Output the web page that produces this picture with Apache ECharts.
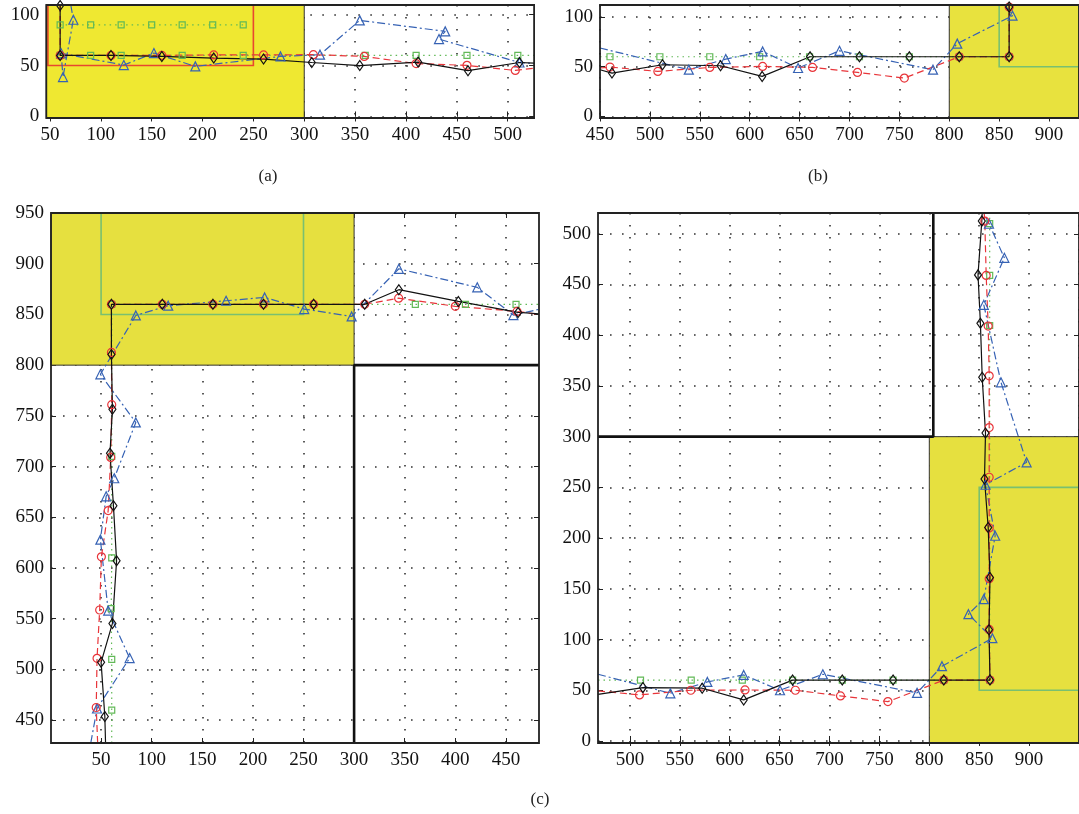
<!DOCTYPE html>
<html>
<head>
<meta charset="utf-8">
<title>Trajectory panels</title>
<script src="https://cdn.jsdelivr.net/npm/echarts@6.0.0/dist/echarts.min.js"></script>
<style>
  html, body { margin: 0; padding: 0; background: #fff; }
  #chart { width: 1079px; height: 814px; }
</style>
</head>
<body>
<div id="chart"></div>
<script>
// tick values / labels
const ticksAx = [50, 100, 150, 200, 250, 300, 350, 400, 450, 500];
const ticksAy = [0, 50, 100];
const ticksBx = [450, 500, 550, 600, 650, 700, 750, 800, 850, 900];
const ticksBy = [0, 50, 100];
const ticksCLx = [50, 100, 150, 200, 250, 300, 350, 400, 450];
const ticksCLy = [450, 500, 550, 600, 650, 700, 750, 800, 850, 900, 950];
const ticksCRx = [500, 550, 600, 650, 700, 750, 800, 850, 900, 950];
const labelsCRx = [500, 550, 600, 650, 700, 750, 800, 850, 900];
const ticksCRy = [0, 50, 100, 150, 200, 250, 300, 350, 400, 450, 500];

// panel (a)
const redA = [[60, 109.5], [60, 60], [110, 60], [160, 60], [211, 60.5], [260, 60.5], [309, 60.7], [359, 59], [410, 52], [460, 50.2], [507.5, 45.2], [526, 47.5]];
const greenA = [[60, 60], [90, 60], [120, 60], [180, 60], [240, 60], [360, 60], [410, 60], [460, 60], [510, 60], [526, 60]];
const greenA90 = [[60, 90], [90, 90], [120, 90], [150, 90], [180, 90], [210, 90], [240, 90]];
const blueA = [[70.5, 109.5], [73, 95], [62.8, 38.7], [61, 62], [122.6, 50.5], [152.2, 62.3], [192.9, 49.2], [276.7, 59], [315.5, 60.7], [354.6, 94.4], [438.6, 83.6], [432.5, 76], [511.6, 53], [526, 52]];
const blackA = [[60, 109], [60, 60], [110, 60], [160, 59], [211, 57.4], [260, 56.4], [307.4, 53], [354.6, 50], [412, 53.4], [461, 45], [511.6, 53], [526, 52.5]];

// panel (b)
const redB = [[450, 48.7], [460, 49.7], [508, 45.3], [560, 49.3], [613, 50.3], [663, 49.3], [708, 44.3], [755, 38.6], [810, 60], [860, 60], [860, 110], [860, 112]];
const greenB = [[450, 60], [460, 60], [510, 60], [560, 60], [610, 60], [660, 60], [710, 60], [760, 60], [810, 60], [860, 60], [860, 112]];
const blueB = [[450, 68.8], [539, 47], [576, 57.7], [613, 65.4], [648.5, 48.7], [690, 66], [783.7, 47], [808, 73.2], [863.4, 101.3], [856, 112]];
const blackB = [[450, 47], [462, 43.6], [512.6, 52], [570.8, 51], [612.5, 40.3], [660.5, 60], [710, 60], [760, 60], [810, 60], [860, 60], [860, 110], [860, 112]];

// panel (c), left
const redCL = [[46.6, 427.5], [45.2, 462.5], [46, 511], [48.6, 558.6], [50.3, 611], [57, 656.6], [59.5, 709], [60.5, 761], [60.2, 812.5], [60.2, 860], [110.5, 860], [160.5, 860], [210.5, 860], [260, 860], [310.5, 860], [344, 866], [400, 858], [461, 853], [482.7, 850]];
const greenCL = [[60.5, 427.5], [60.5, 460], [60.5, 510], [60, 560], [60.5, 610], [60.5, 710], [60.5, 860], [360.5, 860], [410, 860], [460, 860], [482.7, 860]];
const blueCL = [[39.8, 427.5], [46, 461.5], [78.2, 511.2], [57, 558], [49.3, 628], [55, 670.7], [63, 688.5], [84.3, 743.5], [49.3, 791], [84.3, 849], [116.3, 858.6], [173.5, 863.5], [211.6, 866.8], [250.7, 855.3], [297.6, 848], [344.2, 895], [421.7, 876.7], [457.4, 849.4], [482.7, 855]];
const blackCL = [[54.4, 427.5], [53.7, 453.6], [50, 507], [61.2, 545.4], [65.3, 607.2], [62.2, 661.5], [58.8, 713.2], [61.2, 756.6], [60.2, 810.5], [60.2, 860], [110.5, 860], [160.5, 860], [210.5, 860], [260, 860], [310.5, 860], [344.2, 874.4], [403, 862.8], [462, 852], [482.7, 850.7]];

// panel (c), right
const redCR = [[468, 49.4], [509.6, 45.4], [561, 50], [615.3, 50.3], [665.8, 50], [711, 44.4], [758.5, 38.8], [814.5, 60], [860.8, 60], [860, 110], [860, 160], [860, 210], [860, 260], [860, 309], [860, 360], [859, 409], [857, 459], [855.6, 512.5], [855, 520.5]];
const greenCR = [[468, 60], [510.6, 60], [561.4, 60], [612.6, 60], [663, 60], [712.8, 60], [763.7, 60], [814.5, 60], [860.5, 60], [860.5, 409.6], [860.5, 459], [860.5, 510], [860.5, 520.5]];
const blueCR = [[468, 65.8], [540.5, 47], [577.6, 58.2], [614, 65.1], [650.4, 50], [693.3, 65.8], [787.7, 47.4], [812.7, 73.7], [863.2, 101.3], [839.2, 125], [854.6, 139.8], [866, 202.3], [856.3, 252.6], [897.5, 274.7], [871.8, 353.6], [854.6, 430], [875.2, 476.3], [859.8, 509.9], [854.6, 520.5]];
const blackCR = [[468, 46], [513, 52.6], [572.4, 52], [614, 40.5], [663, 60], [712.8, 60], [763.7, 60], [814.5, 60], [860.8, 60], [859.8, 109.6], [860.8, 161.2], [859, 210.5], [855.3, 258.3], [856.3, 303.6], [853, 358.6], [851.2, 411.8], [848.8, 459.5], [852.6, 512.5], [853, 520.5]];

// map regions and walls
const yellowA = [[46.4, -1.5], [300, 109.5]];
const boxA = [[48, 50], [250, 109.5]];
const yellowB = [[800, -1.5], [930, 112]];
const boxB = [[850, 50], [930, 112]];
const yellowCL = [[0.5, 800], [300, 950]];
const boxCL = [[50, 850], [250, 950]];
const wallCL = [[300, 427.5], [300, 800], [482.7, 800]];
const yellowCR = [[800, -2], [950, 300]];
const boxCR = [[850, 50], [950, 250]];
const wallCR = [[468, 300], [804, 300], [804, 520.5]];

const RED = '#e8353a', GREEN = '#62b957', BLUE = '#3662b4', BLACK = '#111';
const FONT = '"Liberation Serif", "DejaVu Serif", serif';

const panels = [
  { box: { left: 46.3, top: 5, width: 487.8, height: 113 }, x: [46.4, 526], y: [-1.5, 109.5],
    xt: ticksAx, yt: ticksAy, xl: ticksAx, yl: ticksAy, fill: '#efe831',
    yellow: yellowA, rect: boxA, rectColor: '#e8472f', walls: [],
    red: [redA], green: [greenA, greenA90], blue: [blueA], black: [blackA] },
  { box: { left: 600, top: 5, width: 481, height: 113 }, x: [450, 930], y: [-1.5, 112],
    xt: ticksBx, yt: ticksBy, xl: ticksBx, yl: ticksBy, fill: '#e8e23e',
    yellow: yellowB, rect: boxB, rectColor: '#79c070', walls: [],
    red: [redB], green: [greenB], blue: [blueB], black: [blackB] },
  { box: { left: 51, top: 213, width: 488, height: 530 }, x: [0.5, 482.7], y: [427.5, 950],
    xt: ticksCLx, yt: ticksCLy, xl: ticksCLx, yl: ticksCLy, fill: '#e6e03f',
    yellow: yellowCL, rect: boxCL, rectColor: '#79c070', walls: [wallCL],
    red: [redCL], green: [greenCL], blue: [blueCL], black: [blackCL] },
  { box: { left: 598, top: 213, width: 482, height: 530 }, x: [468, 950], y: [-2, 520.5],
    xt: ticksCRx, yt: ticksCRy, xl: labelsCRx, yl: ticksCRy, fill: '#e6e03f',
    yellow: yellowCR, rect: boxCR, rectColor: '#79c070', walls: [wallCR],
    red: [redCR], green: [greenCR], blue: [blueCR], black: [blackCR] }
];

const styles = {
  green: { color: GREEN, dash: [1.5, 4], symbol: 'rect', size: 6, z: 3 },
  blue: { color: BLUE, dash: [8, 3, 2, 3], symbol: 'triangle', size: 9, z: 3 },
  red: { color: RED, dash: [7, 4], symbol: 'circle', size: 8, z: 3 },
  black: { color: BLACK, dash: 'solid', symbol: 'diamond', size: [7, 10], z: 3 }
};

const grids = [], xAxes = [], yAxes = [], series = [];

function tickAxis(p, gi, dim, main) {
  const range = dim === 'x' ? p.x : p.y;
  return {
    type: 'value', gridIndex: gi, min: range[0], max: range[1], z: 0,
    position: dim === 'x' ? (main ? 'bottom' : 'top') : (main ? 'left' : 'right'),
    axisLine: { show: false },
    axisTick: { show: true, inside: true, length: 5, customValues: dim === 'x' ? p.xt : p.yt,
      lineStyle: { color: '#222', width: 1 } },
    axisLabel: { show: main, customValues: dim === 'x' ? p.xl : p.yl, margin: dim === 'x' ? 8 : 7,
      fontFamily: FONT, fontSize: 19, color: '#111' },
    splitLine: { show: main, lineStyle: { color: '#333', width: 1.6, type: [1.6, 10.4] } }
  };
}

function trace(p, pts, st, xi, yi) {
  return {
    type: 'line', xAxisIndex: xi, yAxisIndex: yi, z: st.z, silent: true,
    data: pts.map(q => {
      const edge = q[0] <= p.x[0] + 0.01 || q[0] >= p.x[1] - 0.01 ||
                   q[1] <= p.y[0] + 0.01 || q[1] >= p.y[1] - 0.01;
      return edge ? { value: q, symbol: 'none' } : { value: q };
    }),
    symbol: st.symbol, symbolSize: st.size,
    itemStyle: { color: 'rgba(0,0,0,0)', borderColor: st.color, borderWidth: 1.2 },
    lineStyle: { color: st.color, width: 1.2, type: st.dash },
    emphasis: { disabled: true }
  };
}

function area(r, xi, yi, z, style) {
  return {
    type: 'line', xAxisIndex: xi, yAxisIndex: yi, z: z, silent: true,
    data: r, symbol: 'none', lineStyle: { opacity: 0 },
    markArea: { silent: true, itemStyle: style, data: [[{ coord: r[0] }, { coord: r[1] }]] }
  };
}

panels.forEach((p, i) => {
  grids.push(Object.assign({ show: true, borderColor: '#222', borderWidth: 1.8,
    backgroundColor: 'rgba(0,0,0,0)', z: 5 }, p.box));
  xAxes.push(tickAxis(p, i, 'x', true), tickAxis(p, i, 'x', false));
  yAxes.push(tickAxis(p, i, 'y', true), tickAxis(p, i, 'y', false));
  const xi = 2 * i, yi = 2 * i;
  series.push(area(p.yellow, xi, yi, 1, { color: p.fill, borderColor: '#333', borderWidth: 1 }));
  series.push(area(p.rect, xi, yi, 1.5, { color: 'rgba(0,0,0,0)', borderColor: p.rectColor, borderWidth: 1.6 }));
  p.walls.forEach(w => series.push({
    type: 'line', xAxisIndex: xi, yAxisIndex: yi, z: 4, silent: true, data: w,
    symbol: 'none', lineStyle: { color: '#111', width: 2.6 }
  }));
  ['green', 'blue', 'red', 'black'].forEach(k => {
    p[k].forEach(pts => series.push(trace(p, pts, styles[k], xi, yi)));
  });
});

const caption = (t, x, y) => ({
  type: 'text', x: x, y: y,
  style: { text: t, font: '17px ' + FONT, fill: '#222', align: 'center', verticalAlign: 'middle',
    textAlign: 'center', textVerticalAlign: 'middle' }
});

const chart = echarts.init(document.getElementById('chart'));
chart.setOption({
  animation: false,
  backgroundColor: '#fff',
  grid: grids,
  xAxis: xAxes,
  yAxis: yAxes,
  series: series,
  graphic: [caption('(a)', 268, 177), caption('(b)', 818, 177), caption('(c)', 540, 800)]
});
</script>
</body>
</html>
